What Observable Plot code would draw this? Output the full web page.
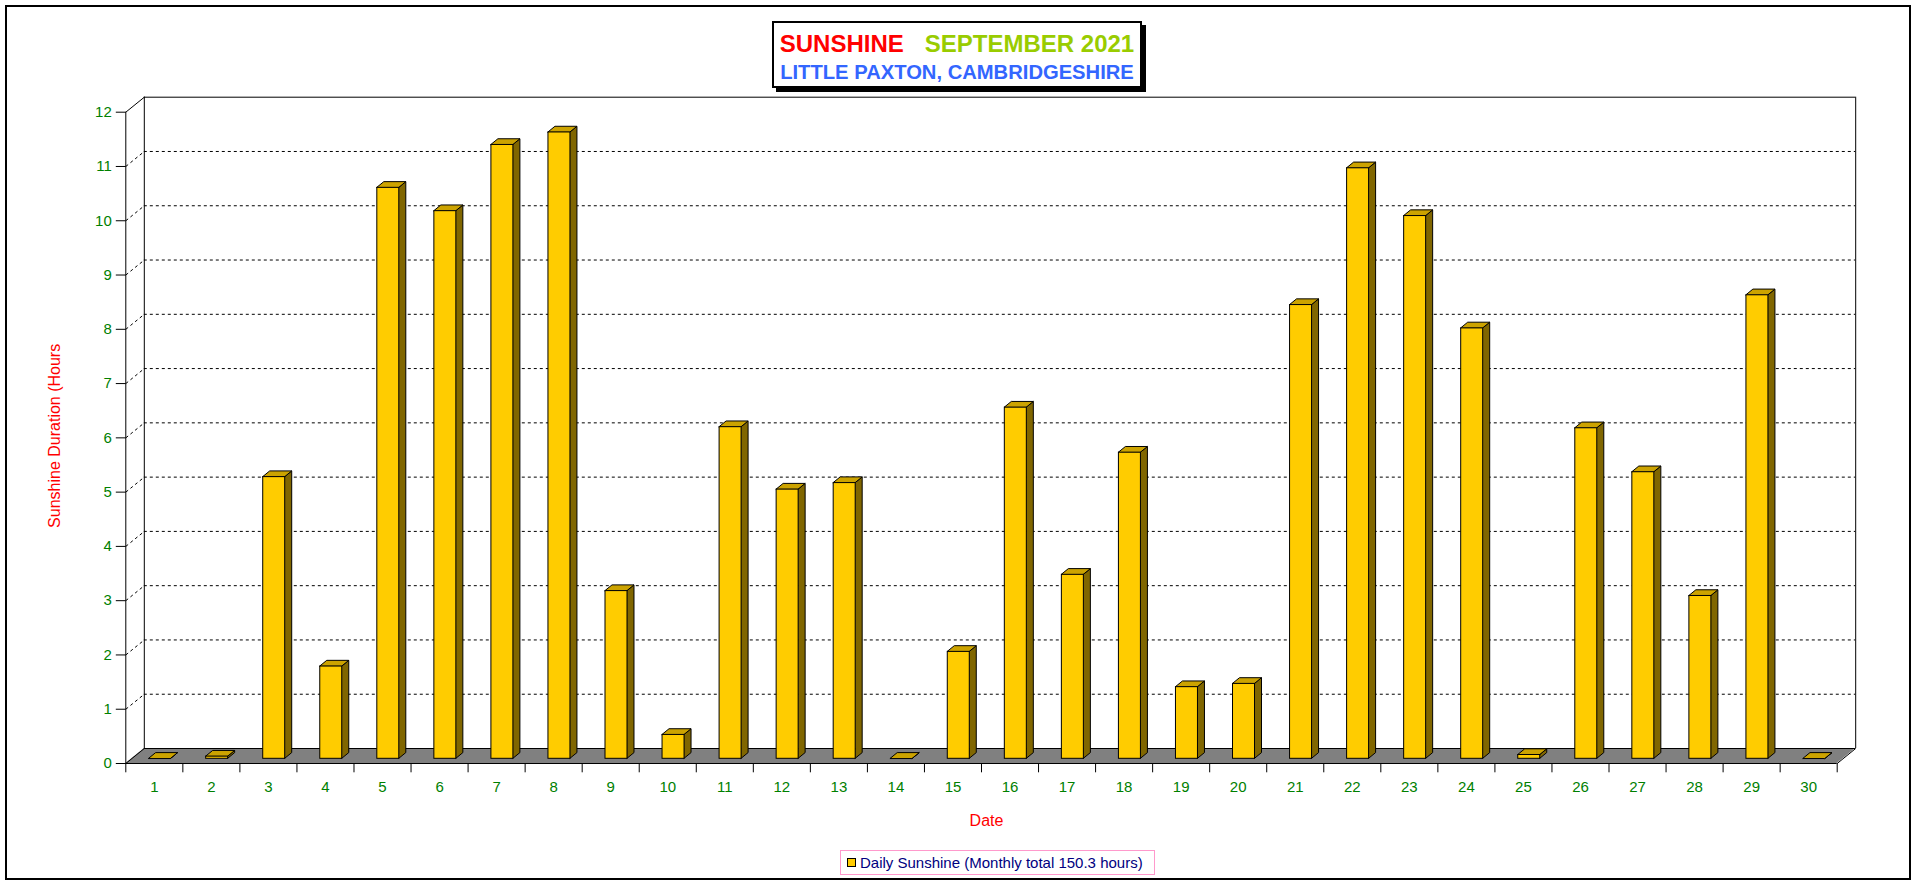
<!DOCTYPE html>
<html>
<head>
<meta charset="utf-8">
<script src="https://cdn.jsdelivr.net/npm/d3@7"></script>
<script src="https://cdn.jsdelivr.net/npm/@observablehq/plot@0.6"></script>
<style>
  body { margin: 0; background: #fff; font-family: "Liberation Sans", Arial, sans-serif; }
  #wrap { position: relative; width: 1916px; height: 884px; overflow: hidden; background: #fff; }
  #wrap svg { position: absolute; left: 0; top: 0; }
  #frame { position: absolute; left: 5px; top: 5px; width: 1906px; height: 875px; box-sizing: border-box; border: 2px solid #000; pointer-events: none; }
  #title { position: absolute; left: 772px; top: 21px; width: 370px; height: 67px; box-sizing: border-box;
           border: 2px solid #000; background: #fff; box-shadow: 4px 4px 0 #000; text-align: center; font-weight: bold; }
  #t1 { position: absolute; left: 0; width: 100%; top: 8.5px; font-size: 24px; line-height: 24px; white-space: nowrap; }
  #t2 { position: absolute; left: 0; width: 100%; top: 39px; font-size: 20.2px; line-height: 20px; color: #3366FF; white-space: nowrap; }
  #legend { position: absolute; left: 840px; top: 850px; width: 315px; height: 25px; box-sizing: border-box;
            border: 1px solid #FF99CC; display: flex; align-items: center; font-size: 15px; color: #000080; white-space: nowrap; }
  #legend .sw { width: 9px; height: 9px; box-sizing: border-box; border: 1px solid #000; background: #FFCC00; margin-left: 6px; margin-right: 4px; }
</style>
</head>
<body>
<div id="wrap">
  <div id="title">
    <div id="t1"><span style="color:#FF0000;margin-right:21px">SUNSHINE</span><span style="color:#99CC00">SEPTEMBER 2021</span></div>
    <div id="t2">LITTLE PAXTON, CAMBRIDGESHIRE</div>
  </div>
  <div id="legend"><div class="sw"></div><span>Daily Sunshine (Monthly total 150.3 hours)</span></div>
  <div id="frame"></div>
</div>
<script>
// ---- data ----
const days = [1,2,3,4,5,6,7,8,9,10,11,12,13,14,15,16,17,18,19,20,21,22,23,24,25,26,27,28,29,30];
const hours = [0, 0.04, 5.19, 1.70, 10.52, 10.09, 11.31, 11.54, 3.09, 0.44,
               6.11, 4.96, 5.08, 0, 1.97, 6.47, 3.39, 5.64, 1.32, 1.38,
               8.36, 10.88, 10.00, 7.93, 0.07, 6.09, 5.28, 3.00, 8.54, 0];
const yTicks = [0,1,2,3,4,5,6,7,8,9,10,11,12];
const xTitle = "Date";
const yTitle = "Sunshine Duration (Hours";

// ---- layout ----
const W = 1916, H = 884;
const mL = 125.3, mR = 79.3, mT = 111.7, mB = 121;
const xMin = 0.5, xMax = 30.5, yMax = 12;
const pxX = (W - mL - mR) / (xMax - xMin);   // px per day
const pxY = (H - mT - mB) / yMax;             // px per hour
const DX = 18.5 / pxX, DY = 15 / pxY;         // wall depth in data units
const halfW = 11 / pxX;                       // half bar width
const bdx = 7 / pxX, bdy = 5.7 / pxY;         // bar depth
const barDx = 5.8, barDy = -4.7;              // bar placement inside the floor depth

const rows = days.map((d, i) => ({day: d, v: hours[i]}));
const sidePts = rows.flatMap(r => [
  {day: r.day, x: r.day + halfW, y1: 0, y2: r.v},
  {day: r.day, x: r.day + halfW + bdx, y1: bdy, y2: r.v + bdy}
]);
const topPts = rows.flatMap(r => [
  {day: r.day, y: r.v, xa: r.day - halfW, xb: r.day + halfW},
  {day: r.day, y: r.v + bdy, xa: r.day - halfW + bdx, xb: r.day + halfW + bdx}
]);
const floorPts = [{y: 0, xa: xMin, xb: xMax}, {y: DY, xa: xMin + DX, xb: xMax + DX}];
const bounds = d3.range(xMin, xMax + 0.01, 1);
const inner = yTicks.filter(t => t > 0 && t < yMax);

const green = "#008000";
const chart = Plot.plot({
  width: W, height: H,
  marginLeft: mL, marginRight: mR, marginTop: mT, marginBottom: mB,
  style: {fontFamily: "'Liberation Sans', Arial, sans-serif", fontSize: "15px", background: "transparent", overflow: "visible"},
  x: {type: "linear", domain: [xMin, xMax], axis: null},
  y: {type: "linear", domain: [0, yMax], axis: null},
  marks: [
    // floor
    Plot.area(floorPts, {x1: "xa", x2: "xb", y1: "y", fill: "#808080"}),
    Plot.ruleY([0], {x1: xMin, x2: xMax, stroke: "#000"}),
    Plot.ruleY([DY], {x1: xMin + DX, x2: xMax + DX, stroke: "#000"}),
    Plot.link([0], {x1: xMax, y1: 0, x2: xMax + DX, y2: DY, stroke: "#000"}),
    // back wall
    Plot.ruleY(inner, {y: d => d + DY, x1: xMin + DX, x2: xMax + DX, stroke: "#000", strokeDasharray: "3,3"}),
    Plot.ruleY([yMax], {y: d => d + DY, x1: xMin + DX, x2: xMax + DX, stroke: "#000"}),
    Plot.ruleX([xMin + DX, xMax + DX], {y1: DY, y2: yMax + DY, stroke: "#000"}),
    Plot.link(inner, {x1: xMin, y1: d => d, x2: xMin + DX, y2: d => d + DY, stroke: "#000", strokeDasharray: "3,3"}),
    Plot.link([0, yMax], {x1: xMin, y1: d => d, x2: xMin + DX, y2: d => d + DY, stroke: "#000"}),
    // front y axis
    Plot.ruleX([xMin], {y1: 0, y2: yMax, stroke: "#000"}),
    Plot.link(yTicks, {x1: xMin - 10 / pxX, x2: xMin, y1: d => d, y2: d => d, stroke: "#000"}),
    Plot.text(yTicks, {x: xMin, y: d => d, dx: -14, textAnchor: "end", fill: green, fontSize: 15, text: d => String(d)}),
    // x ticks
    Plot.ruleX(bounds, {y1: 0, y2: -9.3 / pxY, stroke: "#000"}),
    Plot.text(days, {x: d => d, y: 0, dy: 24, fill: green, fontSize: 15, text: d => String(d)}),
    // bars
    Plot.area(sidePts, {x1: "x", y1: "y1", y2: "y2", z: "day", fill: "#806600", stroke: "#000", strokeWidth: 1, dx: barDx, dy: barDy}),
    Plot.area(topPts, {y1: "y", x1: "xa", x2: "xb", z: "day", fill: "#CCA300", stroke: "#000", strokeWidth: 1, dx: barDx, dy: barDy}),
    Plot.rect(rows, {x1: d => d.day - halfW, x2: d => d.day + halfW, y1: 0, y2: "v", fill: "#FFCC00", stroke: "#000", strokeWidth: 1, dx: barDx, dy: barDy}),
    // axis titles
    Plot.text([xTitle], {x: (xMin + xMax) / 2, y: 0, dx: 5, dy: 57, fill: "#FF0000", fontSize: 16, text: d => d}),
    Plot.text([yTitle], {x: xMin, y: 6, dx: -71.3, dy: -2, rotate: -90, fill: "#FF0000", fontSize: 16, text: d => d})
  ]
});
document.getElementById("wrap").prepend(chart);
</script>
</body>
</html>
